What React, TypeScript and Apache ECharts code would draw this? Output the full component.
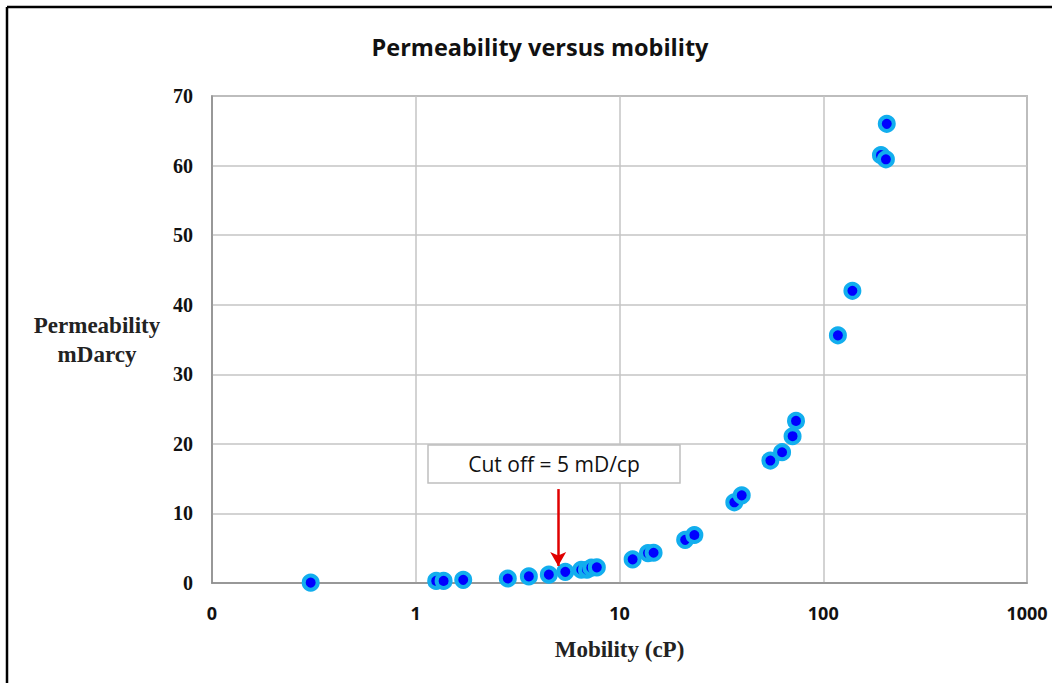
import React, { useEffect, useRef } from "react";
import * as echarts from "echarts";

const mobility = [0.305, 1.26, 1.37, 1.71, 2.83, 3.59, 4.5, 5.42, 6.49, 6.92, 7.27, 7.74, 11.6, 13.8, 14.7, 21.0, 23.3, 36.6, 39.8, 55.0, 62.8, 70.7, 73.5, 118, 139, 192, 203, 205];
const permeability = [0.05, 0.3, 0.3, 0.45, 0.65, 0.95, 1.2, 1.6, 1.9, 1.9, 2.2, 2.25, 3.4, 4.3, 4.35, 6.2, 6.9, 11.6, 12.6, 17.6, 18.8, 21.1, 23.3, 35.6, 42.0, 61.5, 60.9, 66.0];

const cutoffX = 5;
const arrowFromY = 13.5;
const arrowToY = 2.45;
const cutoffLabel = "Cut off = 5 mD/cp";

const titleText = "Permeability versus mobility";
const xName = "Mobility (cP)";
const yName = "Permeability\nmDarcy";

export default function App() {
  const ref = useRef<HTMLDivElement>(null);
  useEffect(() => {
    if (!ref.current) return;
    const chart = echarts.init(ref.current, null, { renderer: "svg" });
    const points = mobility.map((m, i) => [m, permeability[i]]);
    chart.setOption({
      animation: false,
      backgroundColor: "#ffffff",
      title: {
        text: titleText,
        left: 535,
        textAlign: "center",
        top: 30,
        textStyle: { fontFamily: "Open Sans", fontWeight: "bold", fontSize: 23.5, color: "#111" },
      },
      grid: {
        left: 212,
        right: 25,
        top: 96,
        bottom: 100,
        show: true,
        borderColor: "#8c8c8c",
        borderWidth: 1.5,
        backgroundColor: "transparent",
      },
      xAxis: {
        type: "log",
        logBase: 10,
        min: 0.1,
        max: 1000,
        name: xName,
        nameLocation: "middle",
        nameGap: 55,
        nameTextStyle: { fontFamily: "Liberation Serif", fontWeight: "bold", fontSize: 23, color: "#222" },
        axisLine: { show: true, lineStyle: { color: "#8c8c8c", width: 1.5 } },
        axisTick: { show: false },
        splitLine: { show: true, lineStyle: { color: "#c4c4c4", width: 1.5 } },
        minorTick: { show: false },
        axisLabel: {
          margin: 21,
          fontFamily: "Open Sans",
          fontWeight: "bold",
          fontSize: 18,
          color: "#111",
          showMaxLabel: true,
          showMinLabel: true,
          formatter: (v: number) => (v < 1 ? "0" : String(Math.round(v))),
        },
      },
      yAxis: {
        type: "value",
        min: 0,
        max: 70,
        interval: 10,
        name: yName,
        nameLocation: "middle",
        nameRotate: 0,
        nameGap: 115,
        nameTextStyle: { fontFamily: "Liberation Serif", fontWeight: "bold", fontSize: 23, color: "#222", lineHeight: 29, align: "center" },
        axisLine: { show: true, lineStyle: { color: "#8c8c8c", width: 1.5 } },
        axisTick: { show: false },
        splitLine: { show: true, lineStyle: { color: "#c4c4c4", width: 1.5 } },
        axisLabel: {
          margin: 19,
          fontFamily: "Liberation Serif",
          fontWeight: "bold",
          fontSize: 20,
          color: "#111",
        },
      },
      series: [
        {
          type: "scatter",
          data: points,
          symbol: "circle",
          symbolSize: 14,
          itemStyle: { color: "#0000FF", borderColor: "#12AEEE", borderWidth: 4, opacity: 1 },
          z: 3,
          markLine: {
            silent: true,
            symbol: ["none", "arrow"],
            symbolSize: [12, 14],
            label: { show: false },
            lineStyle: { color: "#E00000", width: 2.5, type: "solid" },
            data: [[{ coord: [cutoffX, arrowFromY] }, { coord: [cutoffX, arrowToY] }]],
          },
        },
      ],
      graphic: [
        { type: "line", shape: { x1: 7, y1: 7, x2: 7, y2: 683 }, style: { stroke: "#000", lineWidth: 2.5 } },
        { type: "line", shape: { x1: 7, y1: 7, x2: 1052, y2: 7 }, style: { stroke: "#000", lineWidth: 2.5 } },
        {
          type: "rect",
          shape: { x: 428, y: 445, width: 252, height: 38 },
          style: { fill: "#ffffff", stroke: "#bfbfbf", lineWidth: 1.5 },
          z: 10,
        },
        {
          type: "text",
          x: 554,
          y: 464,
          style: {
            text: cutoffLabel,
            fontFamily: "Open Sans",
            fontSize: 21,
            fill: "#111",
            textAlign: "center",
            textVerticalAlign: "middle",
          },
          z: 11,
        },
      ],
    });
    return () => chart.dispose();
  }, []);
  return <div ref={ref} style={{ position: "absolute", left: 0, top: 0, width: 1052, height: 683 }} />;
}
